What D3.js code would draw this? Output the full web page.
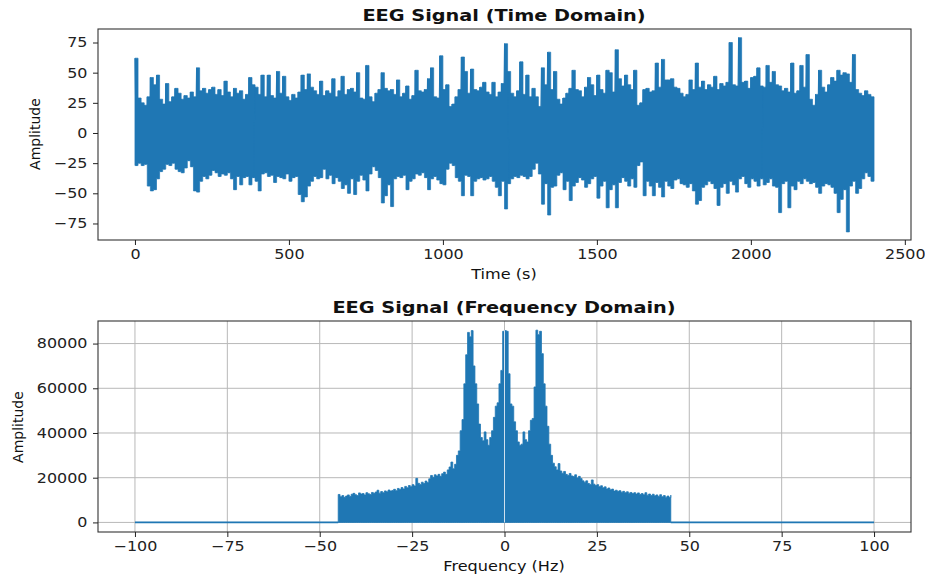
<!DOCTYPE html>
<html><head><meta charset="utf-8">
<script src="https://cdn.jsdelivr.net/npm/d3@7"></script>
<style>
body{margin:0;background:#fff}
svg{display:block}
text{font-family:"DejaVu Sans",sans-serif}
</style>
</head><body>
<svg id="c" width="925" height="578"></svg>
<script>
// ---------------- DATA ----------------
// Time-domain signal, read as upper / lower envelope per 10-sample bin
const timeStep = 10;
const timeEnd = 2400;
const upperEnv = [
62,29,25,23,30,46,40,48,28,24,
41,26,30,37,33,28,31,29,34,30,
54,35,37,33,36,38,32,36,31,43,
34,30,37,33,35,28,32,46,40,38,
32,48,30,48,31,29,51,33,47,30,
27,32,29,34,48,36,49,38,35,32,
43,31,35,33,45,30,35,47,32,36,
37,34,50,29,28,56,30,26,33,36,
50,37,35,36,32,44,30,33,39,28,
31,52,35,34,36,45,54,30,29,64,
36,40,22,24,30,36,63,51,33,53,
36,35,38,42,34,32,42,30,34,41,
74,51,33,30,35,59,32,48,30,37,
30,22,54,40,67,36,51,28,24,29,
33,37,52,36,35,30,38,46,40,31,
48,36,33,52,50,34,69,45,39,48,
40,36,52,23,25,36,37,34,35,58,
38,61,44,44,45,38,37,33,30,32,
44,36,58,38,43,36,40,38,47,36,
41,39,42,75,40,39,79,42,43,37,
46,47,54,39,38,56,42,51,40,39,
35,37,34,58,33,35,56,38,65,28,
23,32,52,38,34,40,46,43,52,48,
50,49,42,65,36,33,31,35,32,30
];
const lowerEnv = [
-27,-25,-27,-26,-44,-48,-47,-38,-32,-30,
-26,-27,-25,-30,-32,-33,-29,-23,-28,-48,
-49,-40,-36,-38,-35,-31,-33,-36,-34,-35,
-33,-38,-47,-36,-43,-37,-36,-43,-37,-40,
-48,-34,-33,-36,-35,-41,-36,-37,-38,-34,
-40,-37,-36,-51,-57,-53,-44,-40,-36,-38,
-37,-30,-38,-35,-42,-37,-40,-46,-43,-50,
-38,-51,-40,-35,-39,-48,-34,-28,-31,-37,
-58,-52,-43,-61,-38,-36,-37,-35,-47,-40,
-38,-34,-35,-33,-37,-47,-38,-36,-39,-42,
-43,-30,-25,-27,-37,-40,-52,-35,-36,-52,
-40,-38,-37,-39,-38,-36,-40,-45,-52,-40,
-63,-42,-38,-36,-37,-35,-36,-38,-36,-30,
-25,-34,-59,-42,-68,-45,-44,-35,-33,-47,
-40,-56,-44,-41,-37,-39,-45,-42,-38,-36,
-54,-44,-40,-62,-47,-43,-62,-41,-37,-40,
-44,-38,-45,-27,-24,-52,-40,-44,-52,-41,
-45,-53,-40,-44,-46,-39,-38,-42,-43,-45,
-42,-48,-59,-56,-45,-43,-40,-42,-46,-60,
-45,-42,-50,-40,-43,-49,-38,-36,-42,-45,
-38,-40,-44,-38,-43,-41,-38,-44,-45,-66,
-42,-40,-62,-44,-47,-40,-42,-38,-40,-42,
-41,-45,-50,-44,-42,-43,-45,-50,-66,-55,
-47,-82,-44,-40,-50,-46,-38,-33,-36,-40
];

// Frequency-domain magnitude, -45 Hz .. 45 Hz every 0.5 Hz
const specStart = -45, specStep = 0.5;
const specAmp = [
12500,11500,12000,11200,11800,12300,11600,12600,13000,12400,
12000,13200,12700,12900,12300,13300,12800,12500,13400,13000,
13600,14400,13100,13800,13300,14100,13700,14500,14000,14300,
14800,14200,15200,14700,15600,15000,16100,15500,16500,16000,
16900,16300,19700,17500,17000,18000,17400,18500,17800,19500,
21000,20200,21300,20800,21500,20600,21800,22500,21500,23500,
24800,27000,24000,26000,30000,32000,41000,46000,62000,75000,
85000,83000,85800,70000,62000,53000,44000,38000,36500,40500,
37000,34500,38000,41000,47000,52000,53500,62000,68000,85500,
85800,
85500,66500,53000,52000,45000,41000,36000,34500,35000,40500,
37000,36000,41000,45700,46500,60600,86000,84000,85500,75500,
62000,52000,43000,35000,30000,26500,24900,23500,26300,23000,
22000,22800,21500,21000,21900,20800,20500,21300,19900,20600,
19600,18600,18000,18600,17400,17000,19000,17100,16500,16900,
16000,16400,15500,15900,15000,15400,14600,14900,14000,14400,
13900,14200,13500,13900,13300,13700,13100,13400,12900,13300,
12700,13200,12500,12900,12400,13300,12200,12700,12000,12600,
11900,12300,11600,12400,11500,12000,11300,11800,11100,12200
];
// stop-band (zero magnitude) ranges
const flatBands = [[-100,-45],[45,100]];
const flatLevel = 0;

// tick labels
const timeTicks = [0,500,1000,1500,2000,2500];
const ampTicks  = [-75,-50,-25,0,25,50,75];
const freqTicks = [-100,-75,-50,-25,0,25,50,75,100];
const specTicks = [0,20000,40000,60000,80000];

// ---------------- DRAW ----------------
const svg = d3.select("#c");
const blue = "#1f77b4";
const SX_TICK = 1.18, SX_LABEL = 1.15, SX_TITLE = 1.17;
const axisColor = "#222";

const P1 = {l:98, r:911, t:29,  b:240};
const P2 = {l:98, r:911, t:321, b:532};

const x1 = d3.scaleLinear().domain([-120,2520]).range([P1.l,P1.r]);
const y1 = d3.scaleLinear().domain([-88.7,86.2]).range([P1.b,P1.t]);
const x2 = d3.scaleLinear().domain([-110,110]).range([P2.l,P2.r]);
const y2 = d3.scaleLinear().domain([-4290,90100]).range([P2.b,P2.t]);

const defs = svg.append("defs");
[["clip1",P1],["clip2",P2]].forEach(([id,P])=>{
  defs.append("clipPath").attr("id",id).append("rect")
    .attr("x",P.l).attr("y",P.t).attr("width",P.r-P.l).attr("height",P.b-P.t);
});

function styleAxis(g){
  g.select(".domain").remove();
  g.selectAll(".tick line").attr("stroke",axisColor).attr("stroke-width",1);
  g.selectAll(".tick text").attr("fill",axisColor).style("font-size","13.5px")
    .style("font-family","'DejaVu Sans',sans-serif")
    .attr("transform",`scale(${SX_TICK},1)`);
}
function label(x,y,txt,size,weight,sx,rot){
  const g = svg.append("g").attr("transform",`translate(${x},${y})` + (rot?` rotate(${rot})`:""));
  g.append("text").attr("text-anchor","middle").attr("dominant-baseline","central")
    .style("font-size",size+"px").style("font-weight",weight).attr("fill","#111")
    .attr("transform", rot ? null : `scale(${sx},1)`).text(txt);
}

// ---- Panel 1: time domain ----
const bins = upperEnv.map((u,i)=>({t:i*timeStep, u, l:lowerEnv[i]}));
const binsEnd = bins.concat([{t:timeEnd, u:upperEnv[upperEnv.length-1], l:lowerEnv[lowerEnv.length-1]}]);
const g1 = svg.append("g").attr("clip-path","url(#clip1)");
g1.append("path").datum(binsEnd)
  .attr("fill",blue).attr("stroke",blue).attr("stroke-width",0.7)
  .attr("d", d3.area().x(d=>x1(d.t)).y0(d=>y1(d.l)).y1(d=>y1(d.u)).curve(d3.curveStepAfter));
// oscillating trace through the same envelope values
const signal = [];
bins.forEach(b=>{ signal.push([b.t, b.u]); signal.push([b.t + timeStep/2, b.l]); });
g1.append("path").datum(signal)
  .attr("fill","none").attr("stroke",blue).attr("stroke-width",1)
  .attr("d", d3.line().x(d=>x1(d[0])).y(d=>y1(d[1])));

svg.append("rect").attr("x",P1.l).attr("y",P1.t).attr("width",P1.r-P1.l).attr("height",P1.b-P1.t)
  .attr("fill","none").attr("stroke","#333").attr("stroke-width",1.1);

svg.append("g").attr("transform",`translate(0,${P1.b})`)
  .call(d3.axisBottom(x1).tickValues(timeTicks).tickFormat(d3.format("d")).tickSize(5).tickPadding(4))
  .call(styleAxis);
svg.append("g").attr("transform",`translate(${P1.l},0)`)
  .call(d3.axisLeft(y1).tickValues(ampTicks).tickFormat(d3.format("d")).tickSize(5).tickPadding(4))
  .call(styleAxis);

label(504,15,"EEG Signal (Time Domain)",16.5,"bold",SX_TITLE);
label(504,274,"Time (s)",14,"normal",SX_LABEL);
label(35,134,"Amplitude",14,"normal",1,-90);

// ---- Panel 2: frequency domain ----
const grid = svg.append("g");
freqTicks.forEach(f=>grid.append("line").attr("x1",x2(f)).attr("x2",x2(f)).attr("y1",P2.t).attr("y2",P2.b)
  .attr("stroke","#b8b8b8").attr("stroke-width",1));
specTicks.forEach(v=>grid.append("line").attr("x1",P2.l).attr("x2",P2.r).attr("y1",y2(v)).attr("y2",y2(v))
  .attr("stroke","#b8b8b8").attr("stroke-width",1));

const spec = specAmp.map((a,k)=>({f:specStart+k*specStep, a}));
const gp = svg.append("g").attr("clip-path","url(#clip2)");
flatBands.forEach(b=>{
  gp.append("line").attr("x1",x2(b[0])).attr("x2",x2(b[1])).attr("y1",y2(flatLevel)).attr("y2",y2(flatLevel))
    .attr("stroke",blue).attr("stroke-width",1.8);
});
gp.append("path").datum(spec)
  .attr("fill",blue).attr("stroke",blue).attr("stroke-width",0.8)
  .attr("d", d3.area().x(d=>x2(d.f)).y0(y2(flatLevel)).y1(d=>y2(d.a)).curve(d3.curveStepAfter));
// thin gap at DC where the grid shows through
gp.append("line").attr("x1",x2(0)).attr("x2",x2(0)).attr("y1",y2(86000)).attr("y2",y2(flatLevel))
  .attr("stroke","#cfe0ee").attr("stroke-width",1);

svg.append("rect").attr("x",P2.l).attr("y",P2.t).attr("width",P2.r-P2.l).attr("height",P2.b-P2.t)
  .attr("fill","none").attr("stroke","#333").attr("stroke-width",1.1);

svg.append("g").attr("transform",`translate(0,${P2.b})`)
  .call(d3.axisBottom(x2).tickValues(freqTicks).tickFormat(d3.format("d")).tickSize(5).tickPadding(4))
  .call(styleAxis);
svg.append("g").attr("transform",`translate(${P2.l},0)`)
  .call(d3.axisLeft(y2).tickValues(specTicks).tickFormat(d3.format("d")).tickSize(5).tickPadding(4))
  .call(styleAxis);

label(504,307,"EEG Signal (Frequency Domain)",16.5,"bold",SX_TITLE);
label(504,566,"Frequency (Hz)",14,"normal",SX_LABEL);
label(18,427,"Amplitude",14,"normal",1,-90);
</script>
</body></html>
